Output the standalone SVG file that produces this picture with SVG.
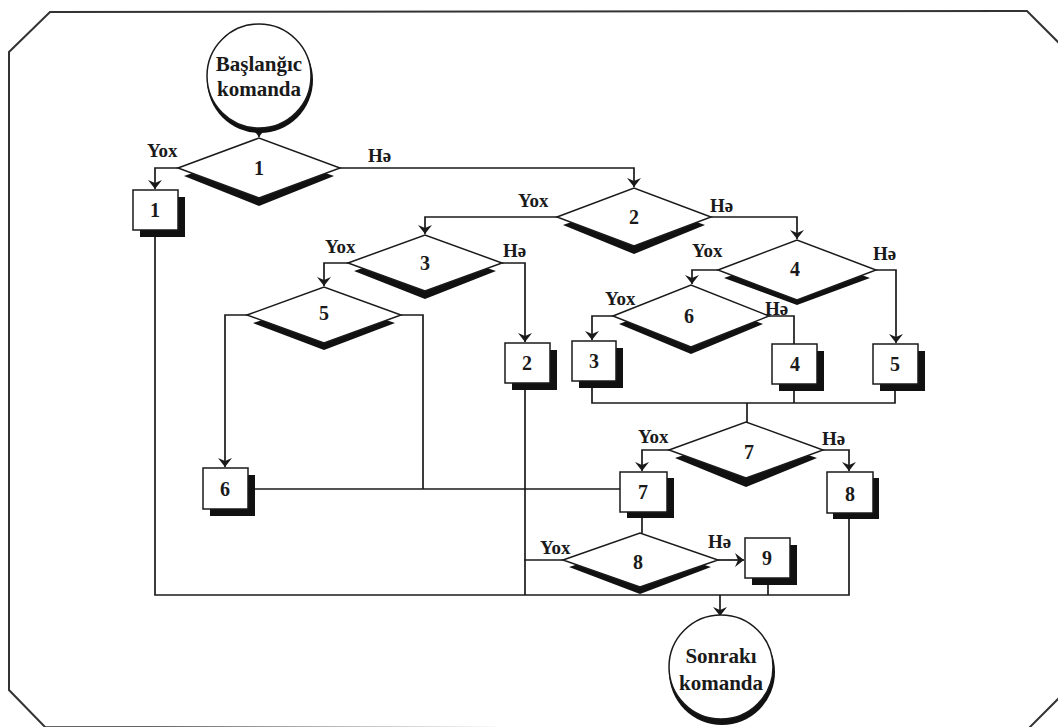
<svg xmlns="http://www.w3.org/2000/svg" width="1058" height="727" viewBox="0 0 1058 727">
<style>
.frame{fill:#fff;stroke:#333;stroke-width:2}
.ln{fill:none;stroke:#1a1a1a;stroke-width:1.7}
.box{fill:#fff;stroke:#1a1a1a;stroke-width:1.5}
.sh{fill:#111;stroke:none}
.dm{fill:#fff;stroke:#1a1a1a;stroke-width:1.5}
.t{font-family:"Liberation Serif","Times New Roman",serif;font-weight:bold;fill:#1a1a1a}
.num{font-size:20px;text-anchor:middle}
.lab{font-size:19px}
.big{font-size:21px;text-anchor:middle}
</style>
<defs>
<marker id="ar" viewBox="0 0 10 14" refX="9" refY="7" markerWidth="10" markerHeight="14" markerUnits="userSpaceOnUse" orient="auto">
<path d="M0,0 L9,7 L0,14 L3,7 Z" fill="#1a1a1a"/>
</marker>
</defs>
<path class="frame" d="M50,12 L1027,11 L1062,46 L1062,695 L1028,729 L45,727 L9,690 L9,52 Z"/>

<g id="connectors">
<path class="ln" d="M259,128 V137" marker-end="url(#ar)"/>
<path class="ln" d="M178,168 H155 V189" marker-end="url(#ar)"/>
<path class="ln" d="M340,168 H634 V187" marker-end="url(#ar)"/>
<path class="ln" d="M557,217 H425 V234" marker-end="url(#ar)"/>
<path class="ln" d="M711,217 H797 V239" marker-end="url(#ar)"/>
<path class="ln" d="M348,263 H324 V286" marker-end="url(#ar)"/>
<path class="ln" d="M502,263 H525 V342" marker-end="url(#ar)"/>
<path class="ln" d="M247,315 H225 V467" marker-end="url(#ar)"/>
<path class="ln" d="M401,315 H423 V489"/>
<path class="ln" d="M718,270 H692 V284" marker-end="url(#ar)"/>
<path class="ln" d="M876,270 H896 V343" marker-end="url(#ar)"/>
<path class="ln" d="M613,316 H592 V340" marker-end="url(#ar)"/>
<path class="ln" d="M769,316 H794 V344"/>
<path class="ln" d="M592,381 V403 H895 V384"/>
<path class="ln" d="M794,391 V403"/>
<path class="ln" d="M747,403 V422"/>
<path class="ln" d="M669,450 H642 V471" marker-end="url(#ar)"/>
<path class="ln" d="M823,450 H849 V471" marker-end="url(#ar)"/>
<path class="ln" d="M255,489 H620"/>
<path class="ln" d="M642,518 V533"/>
<path class="ln" d="M563,560 H524"/>
<path class="ln" d="M718,560 H744" marker-end="url(#ar)"/>
<path class="ln" d="M525,390 V595"/>
<path class="ln" d="M155,237 V595 H849 V519"/>
<path class="ln" d="M768,585 V595"/>
<path class="ln" d="M720,595 V616" marker-end="url(#ar)"/>
</g>

<g id="start">
<circle class="sh" cx="260" cy="80" r="53"/>
<circle cx="259" cy="76" r="52" fill="#fff" stroke="#1a1a1a" stroke-width="1.5"/>
<text class="t big" x="259" y="71">Başlanğıc</text>
<text class="t big" x="259" y="96">komanda</text>
</g>

<g id="end">
<circle class="sh" cx="722" cy="672" r="53"/>
<circle cx="721" cy="667" r="52" fill="#fff" stroke="#1a1a1a" stroke-width="1.5"/>
<text class="t big" x="721" y="663">Sonrakı</text>
<text class="t big" x="721" y="690">komanda</text>
</g>

<g id="d1">
<polygon class="sh" points="184,176 259,206 334,176 259,150"/>
<polygon class="dm" points="178,168 259,138 340,168 259,198"/>
<text class="t num" x="259" y="175">1</text>
</g>
<g id="d2">
<polygon class="sh" points="563,225 634,254 705,225 634,200"/>
<polygon class="dm" points="557,217 634,188 711,217 634,246"/>
<text class="t num" x="634" y="224">2</text>
</g>
<g id="d3">
<polygon class="sh" points="354,271 425,299 496,271 425,247"/>
<polygon class="dm" points="348,263 425,235 502,263 425,291"/>
<text class="t num" x="425" y="270">3</text>
</g>
<g id="d5">
<polygon class="sh" points="253,323 324,350 395,323 324,299"/>
<polygon class="dm" points="247,315 324,287 401,315 324,343"/>
<text class="t num" x="324" y="320">5</text>
</g>
<g id="d4">
<polygon class="sh" points="724,278 797,305 870,278 797,252"/>
<polygon class="dm" points="718,270 797,240 876,270 797,300"/>
<text class="t num" x="795" y="276">4</text>
</g>
<g id="d6">
<polygon class="sh" points="619,324 691,354 763,324 691,297"/>
<polygon class="dm" points="613,316 691,285 769,316 691,347"/>
<text class="t num" x="689" y="323">6</text>
</g>
<g id="d7">
<polygon class="sh" points="675,458 746,487 817,458 746,434"/>
<polygon class="dm" points="669,450 746,422 823,450 746,478"/>
<text class="t num" x="749" y="459">7</text>
</g>
<g id="d8">
<polygon class="sh" points="569,567 640,594 711,567 640,545"/>
<polygon class="dm" points="563,560 640,533 718,560 640,587"/>
<text class="t num" x="638" y="569">8</text>
</g>

<g id="b1"><rect class="sh" x="140" y="197" width="45" height="40"/><rect class="box" x="133" y="190" width="45" height="40"/><text class="t num" x="155" y="217">1</text></g>
<g id="b2"><rect class="sh" x="512" y="350" width="45" height="40"/><rect class="box" x="505" y="343" width="45" height="40"/><text class="t num" x="527" y="370">2</text></g>
<g id="b3"><rect class="sh" x="579" y="348" width="44" height="40"/><rect class="box" x="572" y="341" width="44" height="40"/><text class="t num" x="594" y="368">3</text></g>
<g id="b4"><rect class="sh" x="779" y="351" width="45" height="40"/><rect class="box" x="772" y="344" width="45" height="40"/><text class="t num" x="795" y="371">4</text></g>
<g id="b5"><rect class="sh" x="880" y="351" width="45" height="40"/><rect class="box" x="873" y="344" width="45" height="40"/><text class="t num" x="895" y="371">5</text></g>
<g id="b6"><rect class="sh" x="210" y="475" width="45" height="41"/><rect class="box" x="203" y="468" width="45" height="41"/><text class="t num" x="225" y="496">6</text></g>
<g id="b7"><rect class="sh" x="627" y="478" width="47" height="40"/><rect class="box" x="620" y="472" width="47" height="40"/><text class="t num" x="643" y="499">7</text></g>
<g id="b8"><rect class="sh" x="833" y="478" width="46" height="41"/><rect class="box" x="827" y="472" width="46" height="41"/><text class="t num" x="850" y="501">8</text></g>
<g id="b9"><rect class="sh" x="752" y="545" width="45" height="40"/><rect class="box" x="745" y="538" width="45" height="40"/><text class="t num" x="767" y="565">9</text></g>

<g id="labels">
<text class="t lab" x="147" y="157">Yox</text>
<text class="t lab" x="368" y="162">Hə</text>
<text class="t lab" x="518" y="207">Yox</text>
<text class="t lab" x="710" y="212">Hə</text>
<text class="t lab" x="325" y="253">Yox</text>
<text class="t lab" x="503" y="257">Hə</text>
<text class="t lab" x="692" y="257">Yox</text>
<text class="t lab" x="873" y="260">Hə</text>
<text class="t lab" x="605" y="305">Yox</text>
<text class="t lab" x="765" y="315">Hə</text>
<text class="t lab" x="638" y="443">Yox</text>
<text class="t lab" x="822" y="445">Hə</text>
<text class="t lab" x="540" y="554">Yox</text>
<text class="t lab" x="708" y="548">Hə</text>
</g>
</svg>
